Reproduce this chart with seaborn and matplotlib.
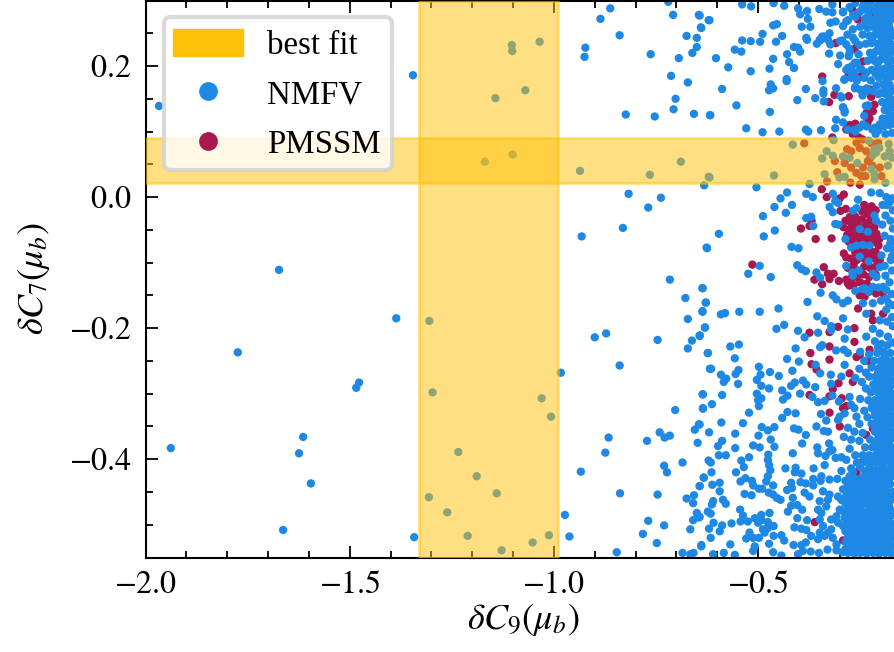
import pandas as pd
import matplotlib
matplotlib.use("Agg")
import matplotlib.pyplot as plt
from matplotlib.lines import Line2D
from matplotlib.patches import FancyBboxPatch, Patch
from matplotlib.ticker import FuncFormatter, MultipleLocator
from matplotlib.transforms import IdentityTransform
import seaborn as sns

# values, as (dC9, dC7)
nmfv_far = [
    (-1.967, .139), (-1.345, .186), (-1.673, -.111), (-1.103, .232), (-1.102, .223), (-1.143, .151), (-1.169, .054),
    (-1.101, .065), (-1.035, .237), (-1.070, .163), (-.936, .040), (-.765, .034), (-.689, .054), (-.621, .031),
    (-1.386, -.185), (-1.305, -.189), (-1.774, -.237), (-1.477, -.283), (-1.484, -.291), (-1.297, -.298),
    (-1.614, -.366), (-1.624, -.391), (-1.938, -.383), (-1.595, -.437), (-1.234, -.389), (-1.189, -.426),
    (-1.140, -.452), (-1.306, -.458), (-1.261, -.481), (-1.663, -.508), (-1.342, -.519), (-1.211, -.517),
    (-1.128, -.539), (-.983, -.268), (-1.030, -.307), (-1.007, -.335), (-1.052, -.527), (-1.012, -.516),
    (-.973, -.485), (-.962, -.518), (-.900, -.214), (-.872, -.208), (-.839, -.257), (-.746, -.218),
    (-.862, .288), (-.886, .272), (-.839, .247), (-.923, .228), (-.925, .214), (-.763, .218), (-.708, .278),
    (-.720, .298), (-.645, .278), (-.621, .270), (-.640, .259), (-.675, .246), (-.650, .243), (-.650, .229),
    (-.661, .220), (-.694, .212), (-.713, .185), (-.672, .175), (-.702, .150), (-.707, .134), (-.824, .126),
    (-.753, .123), (-.657, .127), (-.618, .125), (-.632, .018), (-.817, .005), (-.738, -.001), (-.769, -.016),
    (-.831, -.047), (-.932, -.060), (-.626, -.077), (-.716, -.126), (-.636, -.139), (-.678, -.154),
    (-.628, -.161), (-.636, -.174), (-.672, -.186), (-.630, -.199), (-.643, -.211), (-.662, -.219),
    (-.672, -.231), (-.623, -.238), (-.618, -.262), (-.636, -.301), (-.703, -.325), (-.635, -.322),
    (-.645, -.347), (-.655, -.355), (-.741, -.359), (-.729, -.367), (-.716, -.364), (-.772, -.372),
    (-.866, -.367), (-.874, -.390), (-.648, -.375), (-.934, -.419), (-.730, -.410), (-.723, -.420),
    (-.685, -.405), (-.633, -.428), (-.643, -.441), (-.838, -.452), (-.746, -.454), (-.657, -.455),
    (-.675, -.460), (-.659, -.467), (-.650, -.482), (-.645, -.489), (-.659, -.493), (-.769, -.494),
    (-.730, -.501), (-.666, -.507), (-.782, -.514), (-.748, -.528), (-.639, -.531), (-.846, -.542),
    (-.685, -.543), (-.658, -.543), (-.666, -.545),
]
nmfv_upper = [
    (-.539, .294), (-.517, .291), (-.462, .296), (-.436, .292), (-.402, .288), (-.397, .279), (-.380, .284),
    (-.378, .272), (-.350, .287), (-.333, .283), (-.318, .294), (-.318, .282), (-.292, .282), (-.643, .277),
    (-.619, .270), (-.639, .258), (-.463, .262), (-.454, .264), (-.393, .260), (-.372, .260), (-.323, .266),
    (-.310, .268), (-.292, .261), (-.489, .249), (-.441, .246), (-.539, .239), (-.518, .238), (-.495, .237),
    (-.456, .237), (-.382, .243), (-.380, .240), (-.343, .245), (-.348, .239), (-.356, .234), (-.329, .240),
    (-.323, .233), (-.294, .239), (-.557, .225), (-.541, .222), (-.412, .229), (-.402, .228), (-.397, .222),
    (-.429, .218), (-.326, .219), (-.299, .216), (-.603, .212), (-.463, .211), (-.424, .206), (-.304, .203),
    (-.573, .198), (-.518, .192), (-.472, .196), (-.412, .197), (-.430, .180), (-.430, .177), (-.342, .177),
    (-.289, .179), (-.588, .165), (-.469, .172), (-.463, .166), (-.473, .163), (-.383, .165), (-.340, .163),
    (-.340, .158), (-.309, .166), (-.360, .151), (-.404, .148), (-.339, .146), (-.295, .152), (-.553, .140),
    (-.471, .130), (-.617, .125), (-.292, .137), (-.288, .129), (-.309, .118), (-.292, .114), (-.529, .105),
    (-.489, .099), (-.448, .100), (-.383, .103), (-.377, .100), (-.346, .102), (-.311, .105), (-.280, .103),
    (-.415, .080), (-.315, .087), (-.332, .070), (-.343, .059), (-.317, .063), (-.292, .062), (-.276, .060),
    (-.257, .052), (-.337, .035), (-.301, .030), (-.288, .031), (-.461, .033), (-.619, .030), (-.374, .020),
    (-.229, .086), (-.215, .073), (-.211, .068), (-.219, .064), (-.180, .081), (-.178, .070), (-.190, .062),
    (-.182, .048), (-.223, .043), (-.215, .035), (-.215, .027), (-.188, .022), (-.203, .075), (-.172, .060),
    (-.504, .015), (-.429, .007), (-.445, -.002), (-.460, -.015), (-.417, -.012), (-.432, -.024), (-.488, -.029),
    (-.382, .005), (-.366, .000), (-.317, .005), (-.311, -.006), (-.304, -.009), (-.325, -.015), (-.317, -.023),
    (-.382, -.032), (-.370, -.030), (-.365, -.044), (-.311, -.041), (-.303, -.042), (-.459, -.051), (-.486, -.060),
    (-.596, -.056), (-.625, -.078), (-.418, -.076), (-.401, -.078), (-.404, -.104), (-.393, -.110), (-.383, -.113),
    (-.496, -.105), (-.524, -.117), (-.469, -.122), (-.357, -.115), (-.348, -.123),
]
nmfv_top_right = [
    (-.276, .290), (-.262, .296), (-.250, .283), (-.240, .296), (-.232, .285), (-.222, .293), (-.212, .283),
    (-.203, .296), (-.195, .285), (-.186, .293), (-.176, .283), (-.170, .295), (-.280, .270), (-.262, .275),
    (-.238, .272), (-.225, .270), (-.212, .272), (-.198, .273), (-.184, .270), (-.172, .272), (-.281, .248),
    (-.268, .256), (-.250, .260), (-.232, .258), (-.218, .260), (-.205, .258), (-.192, .260), (-.178, .258),
    (-.262, .238), (-.244, .248), (-.228, .246), (-.214, .248), (-.200, .246), (-.186, .248), (-.172, .246),
    (-.276, .226), (-.252, .232), (-.236, .234), (-.222, .235), (-.206, .234), (-.190, .235), (-.175, .234),
    (-.278, .215), (-.254, .218), (-.226, .220), (-.212, .222), (-.198, .222), (-.183, .222), (-.170, .222),
    (-.270, .200), (-.258, .205), (-.232, .208), (-.215, .208), (-.200, .210), (-.186, .210), (-.172, .208),
    (-.284, .194), (-.265, .190), (-.250, .196), (-.222, .194), (-.206, .196), (-.190, .196), (-.175, .197),
    (-.272, .182), (-.258, .178), (-.240, .182), (-.224, .178), (-.204, .182), (-.188, .184), (-.172, .184),
    (-.262, .168), (-.250, .164), (-.234, .166), (-.210, .170), (-.194, .172), (-.178, .172), (-.244, .155),
    (-.205, .157), (-.190, .158), (-.176, .160), (-.230, .140), (-.196, .145), (-.182, .146), (-.170, .148),
    (-.190, .133), (-.176, .135), (-.240, .124), (-.195, .120), (-.180, .122), (-.170, .124), (-.262, .100),
    (-.252, .106), (-.235, .108), (-.220, .103), (-.205, .102), (-.192, .108), (-.178, .110), (-.172, .098),
    (-.212, .096), (-.188, .096), (-.244, .290), (-.226, .296), (-.208, .290), (-.190, .284), (-.172, .290),
    (-.230, .278), (-.216, .264), (-.198, .265), (-.180, .264), (-.206, .277), (-.188, .277), (-.174, .277),
    (-.238, .264), (-.207, .252), (-.190, .252), (-.175, .252), (-.220, .240), (-.196, .240), (-.180, .240),
    (-.205, .228), (-.190, .228), (-.172, .228), (-.218, .214), (-.194, .216), (-.178, .216), (-.207, .203),
    (-.180, .203), (-.196, .190), (-.176, .190), (-.212, .188), (-.184, .178), (-.172, .166), (-.186, .165),
    (-.198, .160), (-.180, .153), (-.170, .138), (-.186, .140), (-.178, .128), (-.186, .115), (-.170, .112),
    (-.292, .283), (-.284, .268), (-.267, .278), (-.255, .281), (-.337, .245), (-.349, .240), (-.325, .250),
    (-.300, .238), (-.284, .233), (-.267, .243), (-.276, .220), (-.263, .205), (-.280, .197), (-.272, .192),
    (-.247, .195), (-.235, .190), (-.288, .180), (-.259, .181), (-.263, .166), (-.247, .163), (-.235, .162),
    (-.298, .154), (-.292, .137), (-.288, .132), (-.236, .139), (-.218, .162), (-.263, .103), (-.243, .111),
    (-.214, .106), (-.202, .111),
]
nmfv_mid = [
    (-.636, -.139), (-.628, -.161), (-.636, -.175), (-.591, -.179), (-.581, -.177), (-.546, -.175), (-.496, -.175),
    (-.450, -.170), (-.379, -.160), (-.347, -.146), (-.317, -.150), (-.308, -.156), (-.292, -.162), (-.280, -.158),
    (-.355, -.182), (-.337, -.189), (-.292, -.185), (-.321, -.197), (-.321, -.203), (-.280, -.202), (-.455, -.201),
    (-.436, -.195), (-.402, -.204), (-.386, -.214), (-.353, -.207), (-.630, -.199), (-.643, -.212), (-.568, -.228),
    (-.547, -.225), (-.623, -.238), (-.557, -.246), (-.408, -.231), (-.429, -.247), (-.400, -.251), (-.348, -.229),
    (-.343, -.226), (-.309, -.234), (-.288, -.216), (-.290, -.233), (-.280, -.238), (-.615, -.262), (-.591, -.271),
    (-.578, -.277), (-.584, -.282), (-.555, -.270), (-.548, -.264), (-.549, -.285), (-.498, -.259), (-.471, -.267),
    (-.449, -.273), (-.494, -.271), (-.503, -.279), (-.492, -.288), (-.416, -.265), (-.410, -.283), (-.419, -.288),
    (-.390, -.280), (-.382, -.286), (-.360, -.290), (-.359, -.256), (-.348, -.269), (-.322, -.271), (-.321, -.285),
    (-.296, -.274), (-.288, -.256), (-.473, -.292), (-.441, -.295), (-.428, -.303), (-.439, -.309), (-.397, -.300),
    (-.635, -.301), (-.588, -.302), (-.503, -.300), (-.492, -.307), (-.500, -.310), (-.498, -.319), (-.613, -.316),
    (-.635, -.323), (-.522, -.329), (-.428, -.328), (-.408, -.330), (-.441, -.337), (-.367, -.305), (-.353, -.313),
    (-.337, -.311), (-.318, -.303), (-.302, -.312), (-.276, -.305), (-.346, -.331), (-.333, -.341), (-.304, -.340),
    (-.300, -.335), (-.288, -.330), (-.272, -.317), (-.259, -.335), (-.590, -.344), (-.537, -.345), (-.643, -.347),
    (-.491, -.351), (-.460, -.351), (-.476, -.356), (-.412, -.353), (-.401, -.355), (-.357, -.350), (-.339, -.357),
    (-.329, -.358), (-.383, -.363), (-.620, -.359), (-.556, -.361), (-.499, -.364), (-.469, -.370), (-.588, -.372),
    (-.598, -.380), (-.556, -.383), (-.512, -.379), (-.496, -.382), (-.460, -.381), (-.392, -.376), (-.355, -.382),
    (-.326, -.376), (-.318, -.386), (-.325, -.388), (-.353, -.391), (-.335, -.395), (-.415, -.391), (-.596, -.394),
    (-.579, -.394), (-.475, -.393), (-.522, -.397), (-.541, -.402), (-.621, -.402), (-.616, -.405), (-.476, -.401),
    (-.535, -.412), (-.473, -.409), (-.470, -.417), (-.433, -.414), (-.408, -.413), (-.364, -.414), (-.337, -.409),
    (-.310, -.398), (-.296, -.397), (-.284, -.401), (-.614, -.420), (-.554, -.420), (-.476, -.426), (-.410, -.420),
    (-.394, -.422), (-.345, -.426), (-.296, -.418), (-.633, -.428), (-.531, -.429), (-.594, -.436), (-.612, -.439),
    (-.543, -.434), (-.515, -.433), (-.512, -.440), (-.480, -.434), (-.463, -.440), (-.419, -.436), (-.396, -.435),
    (-.383, -.437), (-.365, -.430), (-.347, -.433), (-.325, -.431), (-.306, -.430), (-.286, -.433), (-.365, -.440),
    (-.643, -.441), (-.498, -.445), (-.490, -.445), (-.429, -.447), (-.417, -.444), (-.594, -.449), (-.533, -.453),
    (-.516, -.455), (-.474, -.451), (-.463, -.454), (-.386, -.451), (-.374, -.457), (-.454, -.459), (-.445, -.462),
    (-.415, -.459), (-.341, -.449), (-.325, -.454), (-.586, -.462), (-.579, -.468), (-.610, -.464), (-.613, -.469),
    (-.349, -.464), (-.329, -.462), (-.353, -.477), (-.419, -.471), (-.404, -.470), (-.392, -.477), (-.427, -.480),
    (-.544, -.477), (-.623, -.480), (-.616, -.483), (-.643, -.488), (-.537, -.486), (-.492, -.485), (-.472, -.482),
    (-.404, -.490), (-.380, -.493), (-.543, -.495), (-.525, -.495), (-.508, -.490), (-.500, -.497), (-.492, -.493),
    (-.476, -.496), (-.565, -.498), (-.609, -.497), (-.588, -.501), (-.620, -.506), (-.594, -.510), (-.462, -.502),
    (-.476, -.505), (-.488, -.507), (-.411, -.504), (-.394, -.506), (-.382, -.508), (-.484, -.512), (-.521, -.512),
    (-.462, -.517), (-.616, -.520), (-.529, -.521), (-.512, -.520), (-.498, -.520), (-.443, -.516), (-.436, -.524),
    (-.370, -.517), (-.568, -.530), (-.639, -.533), (-.473, -.529), (-.413, -.531), (-.394, -.531), (-.383, -.527),
    (-.508, -.533), (-.512, -.540), (-.463, -.542), (-.584, -.543), (-.610, -.545), (-.557, -.546), (-.390, -.540),
    (-.371, -.541), (-.351, -.543), (-.330, -.538), (-.308, -.539), (-.443, -.547), (-.402, -.545), (-.353, -.522),
    (-.337, -.517), (-.317, -.520), (-.333, -.472), (-.345, -.482), (-.349, -.492), (-.341, -.502), (-.321, -.492),
    (-.308, -.487), (-.300, -.477), (-.304, -.457), (-.296, -.462), (-.292, -.446), (-.304, -.497), (-.321, -.507),
    (-.329, -.512), (-.349, -.512),
]
# blue dots lying over the red cluster
nmfv_cluster = [
    (-.255, -.004), (-.223, .007), (-.202, .006), (-.186, .000), (-.259, -.017), (-.268, -.021), (-.215, -.028),
    (-.211, -.036), (-.251, -.049), (-.231, -.053), (-.286, -.064), (-.190, -.059), (-.175, -.064), (-.272, -.077),
    (-.259, -.074), (-.243, -.073), (-.227, -.074), (-.198, -.089), (-.251, -.091), (-.229, -.098), (-.284, -.105),
    (-.253, -.112), (-.269, -.115), (-.268, -.120), (-.219, -.117), (-.202, -.107), (-.190, -.105), (-.210, -.122),
    (-.175, -.096), (-.239, -.139), (-.219, -.137), (-.194, -.137), (-.195, -.012), (-.178, -.008), (-.170, -.020),
    (-.188, -.028), (-.176, -.036), (-.196, -.042), (-.170, -.048), (-.184, -.078), (-.170, -.080), (-.188, -.120),
    (-.172, -.112), (-.178, -.130), (-.262, -.143), (-.245, -.140), (-.229, -.145), (-.205, -.138), (-.186, -.142),
    (-.172, -.148), (-.243, -.162), (-.219, -.162), (-.199, -.158), (-.180, -.162), (-.235, -.178), (-.202, -.188),
    (-.186, -.172), (-.172, -.183), (-.219, -.201), (-.235, -.213), (-.202, -.208), (-.182, -.213), (-.170, -.197),
    (-.184, -.190), (-.170, -.165), (-.176, -.070), (-.172, -.002), (-.184, -.012), (-.172, -.090), (-.186, -.155),
]
nmfv_right = [
    (-.214, -.220), (-.198, -.224), (-.183, -.226), (-.170, -.222), (-.250, -.236), (-.228, -.240), (-.208, -.238),
    (-.192, -.236), (-.176, -.238), (-.240, -.250), (-.216, -.250), (-.200, -.250), (-.184, -.250), (-.170, -.250),
    (-.252, -.262), (-.236, -.268), (-.222, -.260), (-.206, -.262), (-.190, -.262), (-.174, -.262), (-.262, -.276),
    (-.246, -.282), (-.228, -.274), (-.212, -.274), (-.196, -.274), (-.180, -.274), (-.236, -.292), (-.218, -.286),
    (-.202, -.286), (-.186, -.286), (-.170, -.286), (-.224, -.298), (-.208, -.298), (-.192, -.298), (-.176, -.298),
    (-.250, -.308), (-.230, -.310), (-.214, -.310), (-.198, -.310), (-.182, -.310), (-.170, -.310), (-.264, -.322),
    (-.240, -.326), (-.222, -.322), (-.206, -.322), (-.190, -.322), (-.174, -.322), (-.232, -.336), (-.214, -.334),
    (-.198, -.334), (-.182, -.334), (-.170, -.334), (-.252, -.346), (-.222, -.346), (-.206, -.346), (-.190, -.346),
    (-.174, -.346), (-.280, -.352), (-.264, -.358), (-.244, -.360), (-.214, -.358), (-.198, -.358), (-.182, -.358),
    (-.170, -.358), (-.290, -.366), (-.272, -.370), (-.252, -.372), (-.226, -.370), (-.208, -.370), (-.192, -.370),
    (-.176, -.370), (-.276, -.384), (-.238, -.382), (-.220, -.382), (-.204, -.382), (-.188, -.382), (-.172, -.382),
    (-.262, -.394), (-.244, -.394), (-.228, -.394), (-.212, -.394), (-.196, -.394), (-.180, -.394), (-.170, -.398),
    (-.206, -.230), (-.190, -.243), (-.176, -.256), (-.198, -.256), (-.182, -.268), (-.204, -.268), (-.168, -.268),
    (-.210, -.280), (-.190, -.280), (-.174, -.280), (-.214, -.292), (-.196, -.292), (-.180, -.292), (-.200, -.304),
    (-.184, -.304), (-.170, -.304), (-.220, -.316), (-.204, -.316), (-.186, -.316), (-.172, -.316), (-.214, -.328),
    (-.196, -.328), (-.178, -.328), (-.206, -.340), (-.188, -.340), (-.172, -.340), (-.214, -.352), (-.196, -.352),
    (-.178, -.352), (-.204, -.364), (-.186, -.364), (-.170, -.364), (-.214, -.376), (-.198, -.376), (-.180, -.376),
    (-.206, -.388), (-.190, -.388), (-.174, -.388), (-.236, -.400), (-.220, -.400), (-.202, -.400), (-.186, -.400),
]
nmfv_dense = [
    (-.258, -.405), (-.240, -.404), (-.224, -.406), (-.208, -.405), (-.192, -.406), (-.176, -.405), (-.272, -.414),
    (-.228, -.414), (-.214, -.416), (-.198, -.415), (-.182, -.416), (-.170, -.414), (-.276, -.426), (-.262, -.430),
    (-.246, -.428), (-.230, -.426), (-.216, -.428), (-.202, -.426), (-.186, -.427), (-.172, -.426), (-.282, -.444),
    (-.268, -.440), (-.252, -.438), (-.238, -.440), (-.222, -.438), (-.208, -.438), (-.192, -.438), (-.176, -.438),
    (-.284, -.456), (-.270, -.452), (-.256, -.450), (-.242, -.452), (-.228, -.450), (-.212, -.450), (-.198, -.450),
    (-.182, -.450), (-.170, -.450), (-.286, -.468), (-.272, -.464), (-.260, -.462), (-.246, -.464), (-.232, -.462),
    (-.218, -.462), (-.204, -.462), (-.188, -.462), (-.174, -.462), (-.290, -.480), (-.276, -.476), (-.264, -.474),
    (-.250, -.476), (-.226, -.474), (-.210, -.474), (-.194, -.474), (-.178, -.474), (-.288, -.490), (-.274, -.488),
    (-.262, -.486), (-.246, -.488), (-.222, -.486), (-.206, -.486), (-.190, -.486), (-.172, -.486), (-.292, -.502),
    (-.278, -.498), (-.264, -.498), (-.250, -.498), (-.236, -.498), (-.220, -.498), (-.204, -.498), (-.188, -.498),
    (-.174, -.498), (-.286, -.510), (-.272, -.508), (-.246, -.510), (-.232, -.510), (-.216, -.510), (-.200, -.510),
    (-.184, -.510), (-.170, -.510), (-.280, -.520), (-.266, -.522), (-.250, -.520), (-.236, -.522), (-.220, -.520),
    (-.206, -.522), (-.190, -.520), (-.176, -.522), (-.308, -.530), (-.278, -.532), (-.262, -.532), (-.246, -.532),
    (-.232, -.532), (-.216, -.532), (-.200, -.532), (-.184, -.532), (-.170, -.532), (-.294, -.542), (-.280, -.543),
    (-.264, -.544), (-.250, -.543), (-.234, -.544), (-.218, -.543), (-.204, -.544), (-.188, -.543), (-.174, -.544),
    (-.250, -.412), (-.238, -.418), (-.222, -.421), (-.206, -.420), (-.190, -.420), (-.176, -.420), (-.268, -.420),
    (-.254, -.434), (-.238, -.433), (-.224, -.432), (-.208, -.432), (-.194, -.432), (-.180, -.432), (-.278, -.436),
    (-.276, -.447), (-.262, -.445), (-.246, -.445), (-.232, -.444), (-.218, -.444), (-.204, -.444), (-.190, -.444),
    (-.278, -.458), (-.264, -.456), (-.250, -.457), (-.236, -.456), (-.222, -.456), (-.206, -.456), (-.192, -.456),
    (-.176, -.456), (-.280, -.470), (-.266, -.468), (-.254, -.469), (-.240, -.468), (-.226, -.468), (-.212, -.468),
    (-.196, -.468), (-.180, -.468), (-.284, -.484), (-.270, -.482), (-.256, -.481), (-.238, -.481), (-.218, -.480),
    (-.202, -.480), (-.186, -.480), (-.172, -.480), (-.282, -.495), (-.268, -.492), (-.254, -.492), (-.232, -.492),
    (-.214, -.492), (-.198, -.492), (-.182, -.492), (-.284, -.505), (-.270, -.503), (-.258, -.504), (-.242, -.504),
    (-.226, -.504), (-.210, -.504), (-.194, -.504), (-.178, -.504), (-.276, -.514), (-.260, -.514), (-.240, -.515),
    (-.224, -.515), (-.208, -.515), (-.192, -.515), (-.176, -.515), (-.286, -.526), (-.272, -.527), (-.256, -.526),
    (-.242, -.527), (-.226, -.527), (-.212, -.527), (-.196, -.527), (-.180, -.527), (-.286, -.537), (-.270, -.538),
    (-.256, -.538), (-.240, -.538), (-.224, -.538), (-.210, -.538), (-.194, -.538), (-.178, -.538),
]
pmssm_band = [
    (-.387, .082), (-.318, .091), (-.282, .073), (-.272, .070), (-.259, .083), (-.253, .091), (-.312, .055),
    (-.288, .052), (-.272, .045), (-.259, .037), (-.306, .038), (-.331, .024), (-.274, .022), (-.247, .032),
    (-.237, .032), (-.231, .055), (-.220, .048), (-.235, .070), (-.206, .083), (-.243, .045), (-.251, .019),
    (-.225, .060), (-.202, .045), (-.198, .032), (-.251, .075), (-.244, .088), (-.222, .082),
]
pmssm_upper = [
    (-.343, .184), (-.313, .156), (-.326, .145), (-.278, .154), (-.223, .153), (-.310, .235), (-.243, .207),
    (-.249, .184), (-.278, .187), (-.269, .286), (-.255, .271), (-.227, .283), (-.264, .226), (-.215, .141),
    (-.219, .131), (-.227, .120), (-.276, .110), (-.259, .106), (-.284, .103), (-.225, .164), (-.211, .278),
    (-.235, .128), (-.262, .112), (-.232, .113), (-.268, .096),
]
pmssm_low = [
    (-.344, .012), (-.332, .000), (-.290, .004), (-.300, -.002), (-.369, -.036), (-.374, -.044), (-.395, -.048),
    (-.359, -.064), (-.320, -.063), (-.514, -.103), (-.339, -.107), (-.329, -.117), (-.315, -.117), (-.325, -.125),
    (-.362, -.126), (-.343, -.133), (-.302, -.128), (-.276, -.135), (-.240, -.012), (-.232, -.016), (-.222, -.014),
    (-.245, -.022), (-.233, -.026), (-.222, -.024), (-.212, -.020), (-.298, -.021), (-.285, -.018), (-.275, -.030),
    (-.262, -.030), (-.286, -.036), (-.272, -.040), (-.258, -.036), (-.246, -.034), (-.236, -.040), (-.225, -.036),
    (-.291, -.046), (-.278, -.050), (-.265, -.046), (-.255, -.044), (-.240, -.048), (-.226, -.048), (-.215, -.046),
    (-.282, -.058), (-.270, -.058), (-.258, -.056), (-.245, -.060), (-.233, -.064), (-.222, -.058), (-.210, -.056),
    (-.203, -.064), (-.278, -.068), (-.266, -.066), (-.254, -.068), (-.240, -.070), (-.228, -.072), (-.215, -.068),
    (-.205, -.074), (-.262, -.084), (-.248, -.082), (-.236, -.084), (-.224, -.082), (-.212, -.084), (-.290, -.086),
    (-.284, -.092), (-.272, -.094), (-.258, -.096), (-.240, -.094), (-.226, -.090), (-.214, -.094), (-.202, -.096),
    (-.280, -.108), (-.266, -.104), (-.240, -.106), (-.226, -.108), (-.212, -.106), (-.272, -.124), (-.258, -.122),
    (-.242, -.118), (-.228, -.122), (-.212, -.118), (-.284, -.126), (-.266, -.134), (-.250, -.130), (-.234, -.132),
    (-.280, -.132), (-.251, -.150), (-.239, -.152), (-.211, -.147), (-.194, -.147), (-.255, -.170), (-.223, -.178),
    (-.219, -.188), (-.194, -.178), (-.264, -.200), (-.264, -.221), (-.227, -.233), (-.259, -.244), (-.251, -.241),
    (-.325, -.206), (-.304, -.198), (-.374, -.207), (-.325, -.228), (-.372, -.238), (-.325, -.248), (-.369, -.255),
    (-.357, -.263), (-.276, -.269), (-.268, -.282), (-.303, -.284), (-.317, -.293), (-.374, -.302), (-.325, -.304),
    (-.295, -.307), (-.292, -.322), (-.284, -.319), (-.325, -.329), (-.300, -.350), (-.235, -.363), (-.219, -.353),
    (-.247, -.405), (-.259, -.420), (-.235, -.420), (-.361, -.496), (-.292, -.524), (-.235, -.484), (-.259, -.517),
    (-.227, -.251), (-.206, -.269),
]

band_c9 = (-1.331, -.990)
band_c7 = (.0213, .0905)
x_limits = (-2.0, -.15)
y_limits = (-.55, .3)

nmfv_points = nmfv_far + nmfv_upper + nmfv_top_right + nmfv_mid + nmfv_cluster + nmfv_right + nmfv_dense
pmssm_points = pmssm_band + pmssm_upper + pmssm_low

# PMSSM goes first so the NMFV dots end up on top of it
df = pd.concat([
    pd.DataFrame(pmssm_points, columns=["c9", "c7"]).assign(model="PMSSM"),
    pd.DataFrame(nmfv_points, columns=["c9", "c7"]).assign(model="NMFV"),
])
colors = {"NMFV": "#1E88E5", "PMSSM": "#A8174F"}
band_color = "#FFC107"

sns.set_style("ticks")
plt.rcParams["font.family"] = ["Liberation Serif", "DejaVu Serif"]
plt.rcParams["mathtext.fontset"] = "stix"

fig = plt.figure(figsize=(8.94, 6.52), dpi=100)
ax = fig.add_axes([145.5 / 894, (652 - 557.5) / 652, (901 - 145.5) / 894, 557 / 652])

sns.scatterplot(data=df, x="c9", y="c7", hue="model", palette=colors, s=36, linewidth=0, legend=False, ax=ax)

ax.axvspan(*band_c9, color=band_color, alpha=.5, lw=2, zorder=5)
ax.axhspan(*band_c7, color=band_color, alpha=.5, lw=2, zorder=5)

ax.set_xlim(x_limits)
ax.set_ylim(y_limits)
ax.xaxis.set_major_locator(MultipleLocator(.5))
ax.xaxis.set_minor_locator(MultipleLocator(.1))
ax.yaxis.set_major_locator(MultipleLocator(.2))
ax.yaxis.set_minor_locator(MultipleLocator(.05))
math_label = FuncFormatter(lambda v, pos: f"${v:.1f}$")
ax.xaxis.set_major_formatter(math_label)
ax.yaxis.set_major_formatter(math_label)
ax.tick_params(which="both", direction="in", top=True, right=True, width=1.3, color="black", labelsize=23, labelcolor="black")
ax.tick_params(which="major", length=8.6, pad=10)
ax.tick_params(which="minor", length=4.7)
for spine in ax.spines.values():
    spine.set_linewidth(1.5)
    spine.set_color("black")

ax.set_xlabel(r"$\delta C_9(\mu_b)$", fontsize=26, color="black", labelpad=1)
ax.set_ylabel(r"$\delta C_7(\mu_b)$", fontsize=26, color="black", labelpad=12)

# the frame is drawn by hand: a legend frame leaves too much room under the last row
frame = FancyBboxPatch((164, 652 - 170), 228, 153, boxstyle="round,pad=0,rounding_size=7", transform=IdentityTransform(),
                       facecolor="white", edgecolor="#d0d0d0", linewidth=3, alpha=.8, zorder=9, clip_on=False)
ax.add_artist(frame)

handles = [
    Patch(facecolor=band_color, edgecolor=band_color, label="best fit"),
    Line2D([], [], ls="", marker="o", ms=13.5, mew=0, color=colors["NMFV"], label="NMFV"),
    Line2D([], [], ls="", marker="o", ms=13.5, mew=0, color=colors["PMSSM"], label="PMSSM"),
]
legend = ax.legend(handles=handles, loc="upper left", bbox_to_anchor=((159 - 145.5) / 755.5, 1 - 15 / 557), borderaxespad=0,
                   fontsize=23.7, frameon=False, labelcolor="black",
                   handlelength=2.13, handleheight=.85, handletextpad=.73, labelspacing=.55, borderpad=.42)
legend.set_zorder(10)

plt.savefig("out.png", dpi=100)
